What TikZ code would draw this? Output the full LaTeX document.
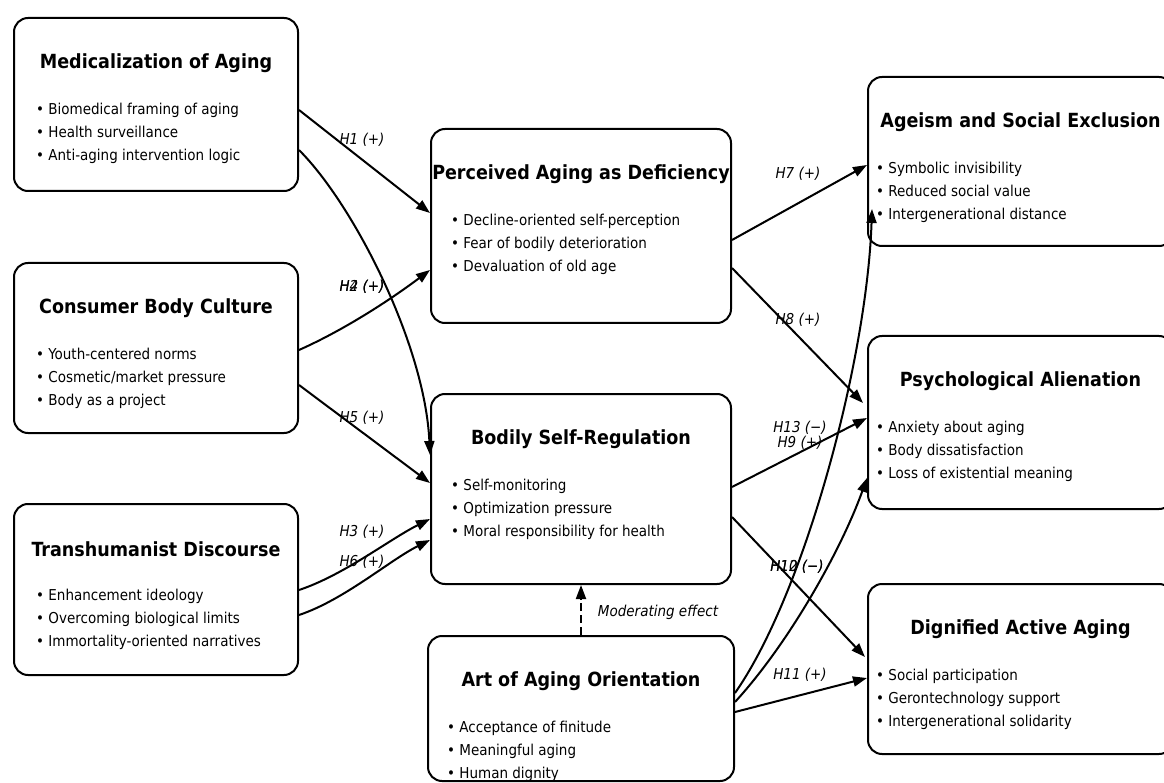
\documentclass[tikz,border=0pt]{standalone}
\usepackage{fontspec}
\setmainfont{DejaVu Sans Condensed}
\usetikzlibrary{calc,arrows.meta}

\tikzset{
  conceptbox/.style={draw, line width=2pt, rounded corners=14pt, inner sep=0pt, anchor=north west},
  boxtitle/.style={font=\fontsize{19.5}{23}\selectfont\bfseries, inner sep=0pt},
  boxitems/.style={font=\fontsize{15}{23}\selectfont, align=left, anchor=north west, inner sep=0pt},
  hyp/.style={-{Triangle[length=14pt,width=10pt]}, line width=2pt},
  hyplabel/.style={font=\fontsize{15}{17}\selectfont\itshape, inner sep=0pt},
}

% name, left, top, width, height, item offset, title, items
\newcommand{\conceptnode}[8]{%
  \node[conceptbox, minimum width=#4pt, minimum height=#5pt] (#1) at (#2,#3) {};
  \node[boxtitle] (#1-title) at ($(#1.north)+(0,46)$) {#7};
  \node[boxitems] (#1-items) at ($(#1.north west)+(#6,86)$) {#8};
}

\begin{document}
\begin{tikzpicture}[x=1pt,y=-1pt]
  \useasboundingbox (0,0) rectangle (1164,783);

  % Left column: drivers
  \conceptnode{med}{13}{17}{284}{173}{23}{Medicalization of Aging}
    {• Biomedical framing of aging\\• Health surveillance\\• Anti-aging intervention logic}
  \conceptnode{cons}{13}{262}{284}{170}{23}{Consumer Body Culture}
    {• Youth-centered norms\\• Cosmetic/market pressure\\• Body as a project}
  \conceptnode{trans}{13}{503}{284}{171}{23}{Transhumanist Discourse}
    {• Enhancement ideology\\• Overcoming biological limits\\• Immortality-oriented narratives}

  % Middle column: mediators and moderator
  \conceptnode{perc}{430}{128}{300}{194}{21}{Perceived Aging as Deficiency}
    {• Decline-oriented self-perception\\• Fear of bodily deterioration\\• Devaluation of old age}
  \conceptnode{bodily}{430}{393}{300}{190}{21}{Bodily Self-Regulation}
    {• Self-monitoring\\• Optimization pressure\\• Moral responsibility for health}
  \conceptnode{art}{427}{635}{306}{145}{20}{Art of Aging Orientation}
    {• Acceptance of finitude\\• Meaningful aging\\• Human dignity}

  % Right column: outcomes
  \conceptnode{age}{867}{76}{305}{169}{9}{Ageism and Social Exclusion}
    {• Symbolic invisibility\\• Reduced social value\\• Intergenerational distance}
  \conceptnode{psych}{867}{335}{305}{173}{9}{Psychological Alienation}
    {• Anxiety about aging\\• Body dissatisfaction\\• Loss of existential meaning}
  \conceptnode{dign}{867}{583}{305}{170}{9}{Dignified Active Aging}
    {• Social participation\\• Gerontechnology support\\• Intergenerational solidarity}

  % Drivers to mediators
  \draw[hyp] ($(med.north east)+(0,93)$) -- ($(perc.north west)+(0,85)$);
  \draw[hyp] ($(med.north east)+(0,133)$) .. controls +(55,55) and +(-5,-110) .. ($(bodily.north west)+(0,62)$);
  \draw[hyp] ($(cons.north east)+(0,88)$) .. controls +(45,-20) and +(-40,30) .. ($(perc.north west)+(0,142)$);
  \draw[hyp] ($(cons.north east)+(0,123)$) -- ($(bodily.north west)+(0,90)$);
  \draw[hyp] ($(trans.north east)+(0,87)$) .. controls +(45,-15) and +(-40,20) .. ($(bodily.north west)+(0,126)$);
  \draw[hyp] ($(trans.north east)+(0,112)$) .. controls +(45,-15) and +(-40,20) .. ($(bodily.north west)+(0,147)$);

  % Mediators to outcomes
  \draw[hyp] ($(perc.north east)+(0,112)$) -- ($(age.north west)+(0,89)$);
  \draw[hyp] ($(perc.north east)+(0,140)$) -- ($(psych.north west)+(-4,68)$);
  \draw[hyp] ($(bodily.north east)+(0,94)$) -- ($(psych.north west)+(0,83)$);
  \draw[hyp] ($(bodily.north east)+(0,124)$) -- ($(dign.north west)+(-2,74)$);

  % Moderator paths
  \draw[hyp] ($(art.north east)+(0,77)$) -- ($(dign.north west)+(0,95)$);
  \draw[hyp] ($(art.north east)+(0,58)$) .. controls +(70,-100) and +(-5,150) .. ($(age.south west)+(5,-38)$);
  \draw[hyp] ($(art.north east)+(0,67)$) .. controls +(55,-60) and +(-25,70) .. ($(psych.north west)+(0,143)$);
  \draw[hyp, dashed, dash pattern=on 8pt off 4pt] (art.north) -- (bodily.south);

  % Hypothesis labels
  \node[hyplabel] (h1) at (362,140) {H1 (+)};
  \node[hyplabel] (h2) at (362,287) {H2 (+)};
  \node[hyplabel] (h4) at (362,287) {H4 (+)};
  \node[hyplabel] (h5) at (362,418) {H5 (+)};
  \node[hyplabel] (h3) at (362,532) {H3 (+)};
  \node[hyplabel] (h6) at (362,562) {H6 (+)};
  \node[hyplabel] (h7) at (798,174) {H7 (+)};
  \node[hyplabel] (h8) at (798,320) {H8 (+)};
  \node[hyplabel] (h13) at (800,428) {H13 (−)};
  \node[hyplabel] (h9) at (800,443) {H9 (+)};
  \node[hyplabel] (h10) at (797,567) {H10 (−)};
  \node[hyplabel] (h12) at (797,567) {H12 (−)};
  \node[hyplabel] (h11) at (800,675) {H11 (+)};
  \node[hyplabel] (mod) at (658,612) {Moderating effect};
\end{tikzpicture}
\end{document}
